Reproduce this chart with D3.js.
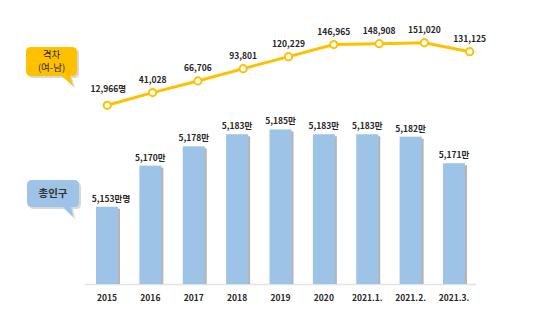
<!DOCTYPE html>
<html>
<head>
<meta charset="utf-8">
<script src="https://cdn.jsdelivr.net/npm/d3@7/dist/d3.min.js"></script>
<style>
  html, body { margin: 0; padding: 0; background: #fff; }
  svg { display: block; font-family: "Noto Sans CJK KR", "Noto Sans", sans-serif; }
</style>
</head>
<body>
<svg id="chart" width="541" height="326"></svg>
<script>
// Periods on the x axis
const periods = ["2015", "2016", "2017", "2018", "2019", "2020", "2021.1.", "2021.2.", "2021.3."];
// Total population (in units of 만명)
const population = [5153, 5170, 5178, 5183, 5185, 5183, 5183, 5182, 5171];
const populationLabels = ["5,153만명", "5,170만", "5,178만", "5,183만", "5,185만", "5,183만", "5,183만", "5,182만", "5,171만"];
// Female minus male population gap (persons)
const gap = [12966, 41028, 66706, 93801, 120229, 146965, 148908, 151020, 131125];
const gapLabels = ["12,966명", "41,028", "66,706", "93,801", "120,229", "146,965", "148,908", "151,020", "131,125"];

const svg = d3.select("#chart");

// ---- Bars: total population ----
const xBar = d3.scalePoint().domain(periods).range([107, 454]);
const barW = 22;
const baseY = 284;
const yBar = d3.scaleLinear().domain([5121, 5186]).range([baseY, 127]);

// baseline
svg.append("line")
  .attr("x1", 85).attr("x2", 476)
  .attr("y1", baseY + 0.5).attr("y2", baseY + 0.5)
  .attr("stroke", "#e3e3e3").attr("stroke-width", 1.5);

const bars = svg.append("g");
// soft shadow at the right edge of each bar
bars.selectAll("rect.shadow").data(population).join("rect")
  .attr("class", "shadow")
  .attr("x", (d, i) => xBar(periods[i]) - barW / 2 + 2)
  .attr("y", d => yBar(d) + 2)
  .attr("width", barW)
  .attr("height", d => baseY - yBar(d) - 2)
  .attr("fill", "#b5b5b5");
bars.selectAll("rect.bar").data(population).join("rect")
  .attr("class", "bar")
  .attr("x", (d, i) => xBar(periods[i]) - barW / 2)
  .attr("y", d => yBar(d))
  .attr("width", barW)
  .attr("height", d => baseY - yBar(d))
  .attr("fill", "#9dc3e6");

svg.append("g").selectAll("text").data(population).join("text")
  .attr("x", (d, i) => xBar(periods[i]) + (i === 0 ? 4 : 0))
  .attr("y", d => yBar(d) - 5)
  .attr("text-anchor", "middle")
  .attr("font-size", 8.5).attr("font-weight", "bold").attr("fill", "#262626")
  .text((d, i) => populationLabels[i]);

// x axis labels
svg.append("g").selectAll("text").data(periods).join("text")
  .attr("x", d => xBar(d))
  .attr("y", 301)
  .attr("text-anchor", "middle")
  .attr("font-size", 8.5).attr("font-weight", "bold").attr("fill", "#262626")
  .text(d => d);

// ---- Line: population gap ----
const xLine = d3.scalePoint().domain(periods).range([107.3, 469.7]);
const yLine = d3.scaleLinear().domain([0, 151020]).range([111.2, 42.7]);

svg.append("path")
  .datum(gap)
  .attr("d", d3.line().x((d, i) => xLine(periods[i])).y(d => yLine(d)))
  .attr("fill", "none").attr("stroke", "#ffc000").attr("stroke-width", 3)
  .attr("stroke-linejoin", "round");

svg.append("g").selectAll("circle").data(gap).join("circle")
  .attr("cx", (d, i) => xLine(periods[i]))
  .attr("cy", d => yLine(d))
  .attr("r", 3.6)
  .attr("fill", "#fff").attr("stroke", "#ffc000").attr("stroke-width", 2);

svg.append("g").selectAll("text").data(gap).join("text")
  .attr("x", (d, i) => xLine(periods[i]) + (i === 0 ? 1 : 0))
  .attr("y", (d, i) => yLine(d) - (i === 0 ? 13 : 10))
  .attr("text-anchor", "middle")
  .attr("font-size", 8.5).attr("font-weight", "bold").attr("fill", "#262626")
  .text((d, i) => gapLabels[i]);

// ---- Callout bubbles ----
function bubble(x0, y0, x1, y1, tx0, tx1, tipX, tipY, fill) {
  const r = 5;
  const p = d3.path();
  p.moveTo(x0 + r, y0);
  p.lineTo(x1 - r, y0);
  p.quadraticCurveTo(x1, y0, x1, y0 + r);
  p.lineTo(x1, y1 - r);
  p.quadraticCurveTo(x1, y1, x1 - r, y1);
  p.lineTo(tx1, y1);
  p.lineTo(tipX, tipY);
  p.lineTo(tx0, y1);
  p.lineTo(x0 + r, y1);
  p.quadraticCurveTo(x0, y1, x0, y1 - r);
  p.lineTo(x0, y0 + r);
  p.quadraticCurveTo(x0, y0, x0 + r, y0);
  p.closePath();
  const g = svg.append("g");
  g.append("path").attr("d", p.toString()).attr("transform", "translate(2,2)")
    .attr("fill", "#c8c8c8").attr("opacity", 0.7);
  g.append("path").attr("d", p.toString()).attr("fill", fill);
  return g;
}

const gapBubble = bubble(26, 47, 77, 76, 62, 70, 73, 86, "#ffc000");
gapBubble.append("text").attr("x", 51.5).attr("y", 57.5)
  .attr("text-anchor", "middle").attr("font-size", 9.5).attr("fill", "#262626")
  .text("격차");
gapBubble.append("text").attr("x", 51.5).attr("y", 71)
  .attr("text-anchor", "middle").attr("font-size", 9.5).attr("fill", "#262626")
  .text("(여-남)");

const popBubble = bubble(27, 180, 79, 207, 63, 71, 73, 217, "#9dc3e6");
popBubble.append("text").attr("x", 53).attr("y", 197)
  .attr("text-anchor", "middle").attr("font-size", 10.5).attr("font-weight", "bold").attr("fill", "#333")
  .text("총인구");
</script>
</body>
</html>
